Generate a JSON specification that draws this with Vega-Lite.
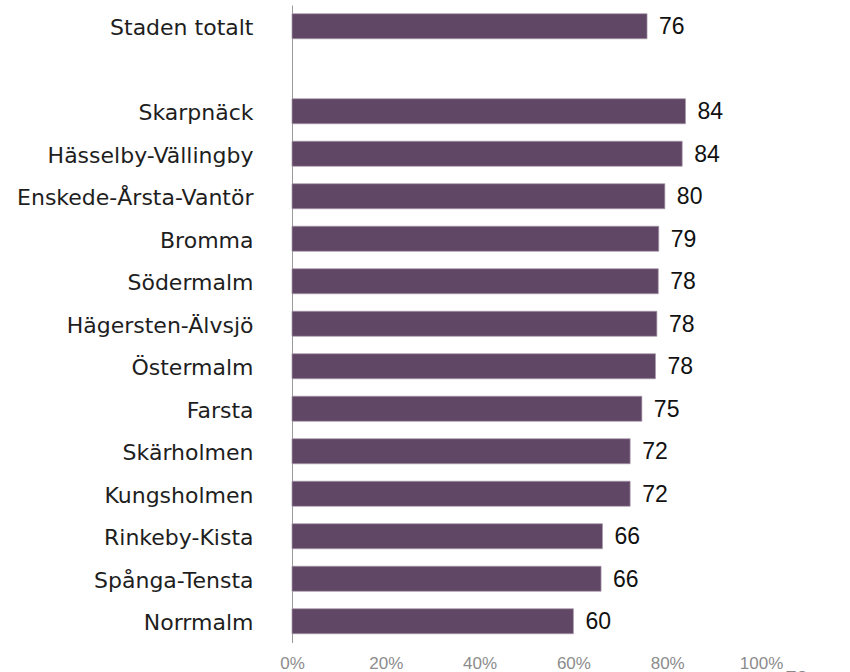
{
  "$schema": "https://vega.github.io/schema/vega-lite/v6.json",
  "autosize": {"type": "none"},
  "width": 469,
  "height": 637.5,
  "padding": {"left": 292, "top": 5, "right": 89, "bottom": 29.5},
  "background": "white",
  "config": {"view": {"stroke": null}, "font": "Liberation Sans"},
  "data": {
    "values": [
      {"omrade": "Staden totalt", "value": 75.7, "label": "76"},
      {"omrade": "Skarpnäck", "value": 83.9, "label": "84"},
      {"omrade": "Hässelby-Vällingby", "value": 83.2, "label": "84"},
      {"omrade": "Enskede-Årsta-Vantör", "value": 79.5, "label": "80"},
      {"omrade": "Bromma", "value": 78.2, "label": "79"},
      {"omrade": "Södermalm", "value": 78.1, "label": "78"},
      {"omrade": "Hägersten-Älvsjö", "value": 77.8, "label": "78"},
      {"omrade": "Östermalm", "value": 77.5, "label": "78"},
      {"omrade": "Farsta", "value": 74.6, "label": "75"},
      {"omrade": "Skärholmen", "value": 72.1, "label": "72"},
      {"omrade": "Kungsholmen", "value": 72.1, "label": "72"},
      {"omrade": "Rinkeby-Kista", "value": 66.2, "label": "66"},
      {"omrade": "Spånga-Tensta", "value": 65.9, "label": "66"},
      {"omrade": "Norrmalm", "value": 60.0, "label": "60"}
    ]
  },
  "encoding": {
    "y": {
      "field": "omrade",
      "type": "nominal",
      "scale": {
        "domain": ["Staden totalt", " ", "Skarpnäck", "Hässelby-Vällingby", "Enskede-Årsta-Vantör", "Bromma", "Södermalm", "Hägersten-Älvsjö", "Östermalm", "Farsta", "Skärholmen", "Kungsholmen", "Rinkeby-Kista", "Spånga-Tensta", "Norrmalm"],
        "paddingInner": 0.41,
        "paddingOuter": 0.205
      },
      "axis": {
        "title": null,
        "ticks": false,
        "domain": true,
        "domainColor": "#9a9a9a",
        "domainWidth": 1,
        "labelFontSize": 22,
        "labelColor": "#1e1e1e",
        "labelPadding": 39,
        "labelOffset": 2,
        "labelFont": "DejaVu Sans",
        "labelLimit": 400
      }
    },
    "x": {
      "field": "value",
      "type": "quantitative",
      "scale": {"domain": [0, 100], "nice": false},
      "axis": {
        "values": [0, 20, 40, 60, 80, 100],
        "labelExpr": "datum.value + '%'",
        "grid": false,
        "ticks": false,
        "domain": false,
        "labelFontSize": 17,
        "labelColor": "#8c8c8c",
        "labelPadding": 13,
        "labelFont": "Liberation Sans",
        "labelFlush": false,
        "title": "78",
        "titleFontSize": 20,
        "titleFontWeight": "normal",
        "titleColor": "#888888",
        "titleAlign": "left",
        "titleBaseline": "top",
        "titleX": 493,
        "titleY": 26
      }
    }
  },
  "layer": [
    {
      "mark": {"type": "bar", "color": "#614766", "stroke": "#a898ab", "strokeWidth": 0.7}
    },
    {
      "mark": {"type": "text", "align": "left", "baseline": "middle", "dx": 12, "dy": 1, "fontSize": 23, "color": "#111111", "font": "Liberation Sans"},
      "encoding": {"text": {"field": "label", "type": "nominal"}}
    }
  ]
}
